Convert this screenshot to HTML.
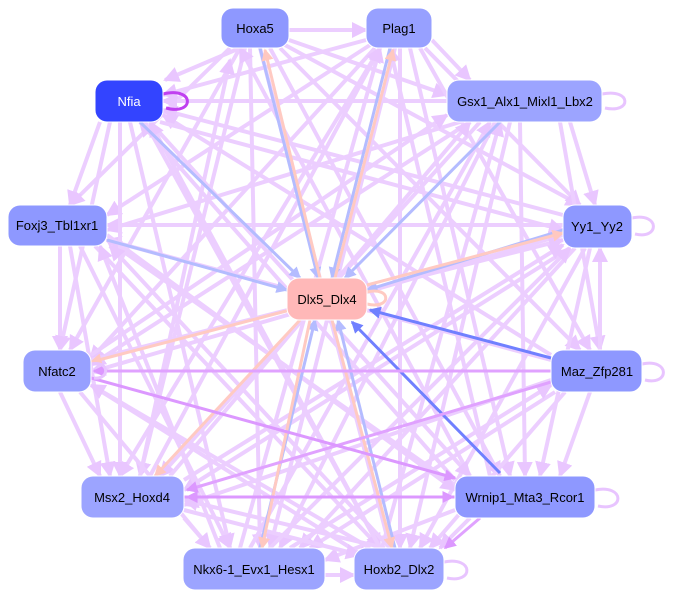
<!DOCTYPE html>
<html><head><meta charset="utf-8"><style>
html,body{margin:0;padding:0;background:#fff;}
svg{display:block;font-family:"Liberation Sans",sans-serif;}
</style></head><body>
<svg width="674" height="599" viewBox="0 0 674 599" xmlns="http://www.w3.org/2000/svg">
<defs>
<marker id="ap" markerWidth="4" markerHeight="4" refX="3.5" refY="2" orient="auto" markerUnits="strokeWidth"><path d="M0,0L4,2L0,4z" fill="#e8c4ff"/></marker>
<marker id="ab" markerWidth="4" markerHeight="4" refX="3.5" refY="2" orient="auto" markerUnits="strokeWidth"><path d="M0,0L4,2L0,4z" fill="#b4bcff"/></marker>
<marker id="ak" markerWidth="4" markerHeight="4" refX="3.5" refY="2" orient="auto" markerUnits="strokeWidth"><path d="M0,0L4,2L0,4z" fill="#ffc8c0"/></marker>
<marker id="ad" markerWidth="4" markerHeight="4" refX="3.5" refY="2" orient="auto" markerUnits="strokeWidth"><path d="M0,0L4,2L0,4z" fill="#7080ff"/></marker>
<marker id="am" markerWidth="4" markerHeight="4" refX="3.5" refY="2" orient="auto" markerUnits="strokeWidth"><path d="M0,0L4,2L0,4z" fill="#dc98ff"/></marker>
</defs>
<g stroke="#ebccff" stroke-width="4" fill="none" opacity="0.95" marker-end="url(#ap)">
<line x1="240" y1="48" x2="165" y2="80"/>
<line x1="230" y1="48" x2="70" y2="205"/>
<line x1="240" y1="48" x2="70" y2="350"/>
<line x1="245" y1="48" x2="140" y2="476"/>
<line x1="250" y1="48" x2="260" y2="548"/>
<line x1="260" y1="48" x2="390" y2="548"/>
<line x1="270" y1="48" x2="500" y2="476"/>
<line x1="280" y1="48" x2="580" y2="350"/>
<line x1="285" y1="45" x2="580" y2="205"/>
<line x1="289" y1="40" x2="447" y2="95"/>
<line x1="289" y1="30" x2="366" y2="30"/>
<line x1="380" y1="48" x2="120" y2="476"/>
<line x1="375" y1="48" x2="90" y2="360"/>
<line x1="370" y1="45" x2="107" y2="215"/>
<line x1="366" y1="40" x2="163" y2="95"/>
<line x1="395" y1="48" x2="270" y2="548"/>
<line x1="400" y1="48" x2="400" y2="548"/>
<line x1="410" y1="48" x2="510" y2="476"/>
<line x1="420" y1="48" x2="590" y2="350"/>
<line x1="425" y1="48" x2="580" y2="205"/>
<line x1="432" y1="40" x2="470" y2="80"/>
<line x1="447" y1="101" x2="163" y2="101"/>
<line x1="460" y1="122" x2="107" y2="230"/>
<line x1="470" y1="122" x2="91" y2="365"/>
<line x1="480" y1="122" x2="160" y2="476"/>
<line x1="495" y1="122" x2="280" y2="548"/>
<line x1="510" y1="122" x2="410" y2="548"/>
<line x1="520" y1="122" x2="525" y2="476"/>
<line x1="560" y1="122" x2="600" y2="350"/>
<line x1="570" y1="122" x2="595" y2="205"/>
<line x1="563" y1="215" x2="163" y2="110"/>
<line x1="563" y1="225" x2="107" y2="225"/>
<line x1="563" y1="235" x2="91" y2="372"/>
<line x1="570" y1="248" x2="184" y2="490"/>
<line x1="575" y1="248" x2="300" y2="548"/>
<line x1="585" y1="248" x2="420" y2="548"/>
<line x1="590" y1="248" x2="540" y2="476"/>
<line x1="600" y1="350" x2="600" y2="248"/>
<line x1="551" y1="360" x2="107" y2="240"/>
<line x1="551" y1="380" x2="184" y2="505"/>
<line x1="555" y1="392" x2="310" y2="548"/>
<line x1="565" y1="392" x2="430" y2="548"/>
<line x1="590" y1="392" x2="560" y2="476"/>
<line x1="551" y1="355" x2="163" y2="115"/>
<line x1="455" y1="485" x2="107" y2="240"/>
<line x1="455" y1="480" x2="140" y2="122"/>
<line x1="470" y1="476" x2="240" y2="48"/>
<line x1="490" y1="476" x2="390" y2="48"/>
<line x1="455" y1="510" x2="325" y2="560"/>
<line x1="470" y1="518" x2="440" y2="548"/>
<line x1="107" y1="235" x2="455" y2="490"/>
<line x1="60" y1="246" x2="60" y2="350"/>
<line x1="70" y1="246" x2="110" y2="476"/>
<line x1="80" y1="246" x2="230" y2="548"/>
<line x1="95" y1="246" x2="380" y2="548"/>
<line x1="100" y1="122" x2="70" y2="205"/>
<line x1="110" y1="122" x2="60" y2="350"/>
<line x1="120" y1="122" x2="120" y2="476"/>
<line x1="130" y1="122" x2="230" y2="548"/>
<line x1="145" y1="122" x2="380" y2="548"/>
<line x1="150" y1="122" x2="470" y2="476"/>
<line x1="160" y1="122" x2="563" y2="230"/>
<line x1="60" y1="392" x2="100" y2="476"/>
<line x1="80" y1="392" x2="210" y2="548"/>
<line x1="91" y1="385" x2="370" y2="560"/>
<line x1="91" y1="360" x2="563" y2="240"/>
<line x1="91" y1="355" x2="447" y2="115"/>
<line x1="140" y1="476" x2="230" y2="60"/>
<line x1="150" y1="476" x2="380" y2="48"/>
<line x1="170" y1="476" x2="470" y2="122"/>
<line x1="184" y1="480" x2="563" y2="245"/>
<line x1="184" y1="518" x2="210" y2="548"/>
<line x1="184" y1="510" x2="360" y2="555"/>
<line x1="240" y1="548" x2="380" y2="48"/>
<line x1="250" y1="548" x2="490" y2="122"/>
<line x1="270" y1="548" x2="570" y2="248"/>
<line x1="290" y1="548" x2="551" y2="385"/>
<line x1="220" y1="548" x2="100" y2="246"/>
<line x1="325" y1="575" x2="354" y2="575"/>
<line x1="380" y1="548" x2="150" y2="122"/>
<line x1="390" y1="548" x2="110" y2="246"/>
<line x1="370" y1="548" x2="91" y2="385"/>
<line x1="380" y1="555" x2="500" y2="122"/>
<line x1="385" y1="548" x2="184" y2="500"/>
</g>
<g fill="none" stroke-width="3">
<line x1="140" y1="122" x2="300" y2="278" stroke="#b4bcff" marker-end="url(#ab)"/>
<line x1="260" y1="48" x2="318" y2="278" stroke="#b4bcff" marker-end="url(#ab)"/>
<line x1="390" y1="48" x2="332" y2="278" stroke="#b4bcff" marker-end="url(#ab)"/>
<line x1="500" y1="122" x2="345" y2="278" stroke="#b4bcff" marker-end="url(#ab)"/>
<line x1="107" y1="240" x2="287" y2="290" stroke="#b4bcff" marker-end="url(#ab)"/>
<line x1="563" y1="230" x2="367" y2="290" stroke="#b4bcff" marker-end="url(#ab)"/>
<line x1="260" y1="548" x2="315" y2="320" stroke="#b4bcff" marker-end="url(#ab)"/>
<line x1="395" y1="548" x2="338" y2="320" stroke="#b4bcff" marker-end="url(#ab)"/>
<line x1="320" y1="278" x2="265" y2="50" stroke="#ffcac2" marker-end="url(#ak)"/>
<line x1="335" y1="278" x2="393" y2="50" stroke="#ffcac2" marker-end="url(#ak)"/>
<line x1="367" y1="285" x2="563" y2="233" stroke="#ffcac2" marker-end="url(#ak)"/>
<line x1="290" y1="310" x2="91" y2="362" stroke="#ffcac2" marker-end="url(#ak)"/>
<line x1="300" y1="320" x2="155" y2="476" stroke="#ffcac2" marker-end="url(#ak)"/>
<line x1="310" y1="320" x2="262" y2="548" stroke="#ffcac2" marker-end="url(#ak)"/>
<line x1="332" y1="320" x2="392" y2="548" stroke="#ffcac2" marker-end="url(#ak)"/>
<path d="M367,292 C392,286 392,310 367,304" stroke="#ffcac2"/>
<line x1="551" y1="358" x2="370" y2="310" stroke="#7080ff" marker-end="url(#ad)"/>
<line x1="500" y1="473" x2="352" y2="322" stroke="#7080ff" marker-end="url(#ad)"/>
<line x1="551" y1="371" x2="94" y2="371" stroke="#e0a2ff" marker-end="url(#am)"/>
<line x1="551" y1="382" x2="187" y2="490" stroke="#e0a2ff" marker-end="url(#am)"/>
<line x1="91" y1="378" x2="455" y2="478" stroke="#dc98ff" marker-end="url(#am)"/>
<line x1="184" y1="497" x2="453" y2="497" stroke="#dc98ff" marker-end="url(#am)"/>
<line x1="455" y1="497" x2="187" y2="497" stroke="#dc98ff" marker-end="url(#am)"/>
<line x1="480" y1="518" x2="445" y2="548" stroke="#e0a2ff" marker-end="url(#am)"/>
<path d="M163,94 C195,86 195,116 166,108" stroke="#c040f0"/>
<path d="M602,94 C632,88 632,114 605,108" stroke="#e8c4ff"/>
<path d="M632,218 C660,212 660,240 635,234" stroke="#e8c4ff"/>
<path d="M642,364 C670,358 670,386 645,380" stroke="#e8c4ff"/>
<path d="M595,490 C625,484 625,512 598,506" stroke="#e8c4ff"/>
<path d="M444,562 C474,556 474,584 447,578" stroke="#e8c4ff"/>
<path d="M91,364 C110,360 110,380 94,378" stroke="#e8c4ff"/>
</g>
<g font-size="13" text-anchor="middle" dominant-baseline="central" stroke="#fff" stroke-width="1">
<rect x="221" y="8" width="68" height="40" rx="12" fill="#8e98ff"/>
<rect x="366" y="8" width="66" height="40" rx="12" fill="#97a0ff"/>
<rect x="95" y="80" width="68" height="42" rx="12" fill="#3344ff"/>
<rect x="447" y="80" width="155" height="42" rx="12" fill="#9ca4ff"/>
<rect x="8" y="205" width="99" height="41" rx="12" fill="#8e98ff"/>
<rect x="563" y="205" width="69" height="43" rx="12" fill="#8e98ff"/>
<rect x="287" y="278" width="80" height="42" rx="12" fill="#ffb8b8"/>
<rect x="23" y="350" width="68" height="42" rx="12" fill="#97a0ff"/>
<rect x="551" y="350" width="91" height="42" rx="12" fill="#8e98ff"/>
<rect x="81" y="476" width="103" height="42" rx="12" fill="#9ca4ff"/>
<rect x="455" y="476" width="140" height="42" rx="12" fill="#8e98ff"/>
<rect x="183" y="548" width="142" height="42" rx="12" fill="#9ca4ff"/>
<rect x="354" y="548" width="90" height="42" rx="12" fill="#9ca4ff"/>
</g>
<g font-size="13" text-anchor="middle" fill="#000">
<text x="255" y="33">Hoxa5</text>
<text x="399" y="33">Plag1</text>
<text x="129" y="106" fill="#fff">Nfia</text>
<text x="525" y="106">Gsx1_Alx1_Mixl1_Lbx2</text>
<text x="57" y="230">Foxj3_Tbl1xr1</text>
<text x="597" y="231">Yy1_Yy2</text>
<text x="327" y="304">Dlx5_Dlx4</text>
<text x="57" y="376">Nfatc2</text>
<text x="597" y="376">Maz_Zfp281</text>
<text x="132" y="502">Msx2_Hoxd4</text>
<text x="525" y="502">Wrnip1_Mta3_Rcor1</text>
<text x="254" y="574">Nkx6-1_Evx1_Hesx1</text>
<text x="399" y="574">Hoxb2_Dlx2</text>
</g>
</svg>
</body></html>
